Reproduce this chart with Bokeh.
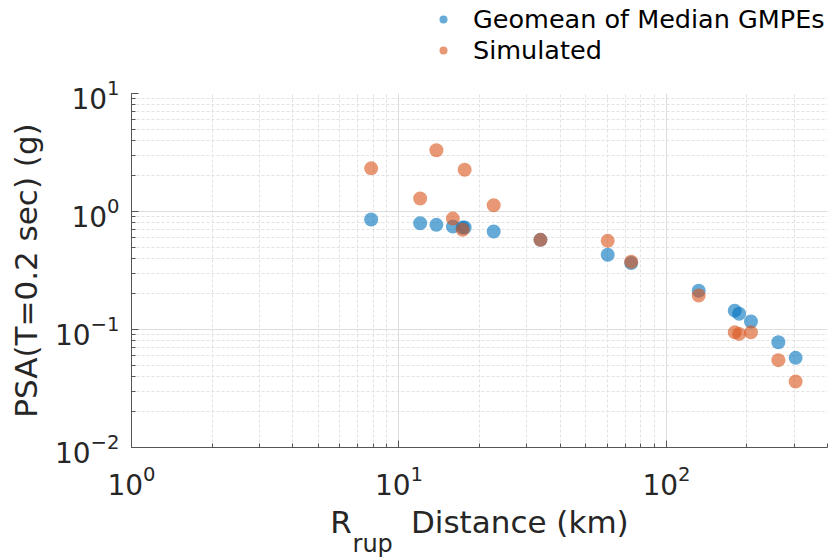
from bokeh.plotting import figure
from bokeh.models import Legend, LegendItem, LogAxis, FixedTicker
from bokeh.layouts import column
from bokeh.embed import file_html
from bokeh.resources import INLINE

# Data (Rrup distance km, PSA g)
gmpe_dist = [7.87, 12.0, 13.8, 15.9, 17.3, 17.6, 22.6, 33.8, 60.3, 73.8, 132, 180, 187, 207, 262, 304]
gmpe_psa = [0.855, 0.796, 0.771, 0.745, 0.731, 0.731, 0.676, 0.575, 0.430, 0.366, 0.213, 0.1445, 0.136, 0.117, 0.078, 0.0575]

sim_dist = [7.87, 12.0, 13.8, 15.9, 17.6, 17.3, 22.6, 33.8, 60.3, 73.8, 132, 180, 187, 207, 262, 304]
sim_psa = [2.32, 1.29, 3.30, 0.871, 2.26, 0.699, 1.13, 0.575, 0.564, 0.375, 0.194, 0.0946, 0.0918, 0.0946, 0.055, 0.0363]

legend_labels = ["Geomean of Median GMPEs", "Simulated"]
NB = "\u00a0"
x_label_main = "R" + NB * 6 + "Distance (km)"
x_label_sub = "rup" + NB * 28
y_label = "PSA(T=0.2 sec) (g)"

FONT = "DejaVu Sans"
BLUE = "#0072BD"
ORANGE = "#D95319"
ALPHA = 0.6

# ---- main plot ----
p = figure(width=839, height=487, x_axis_type="log", y_axis_type="log",
           x_range=(1, 400), y_range=(0.01, 10),
           output_backend="svg", toolbar_location=None,
           min_border_left=131, min_border_right=12,
           min_border_top=20, min_border_bottom=112)
p.outline_line_color = None
p.background_fill_color = "white"
p.border_fill_color = "white"

for ax in (p.xaxis, p.yaxis):
    ax.axis_line_color = "#555555"
    ax.major_tick_line_color = "#555555"
    ax.minor_tick_line_color = "#555555"
    ax.major_tick_in = 7
    ax.major_tick_out = 0
    ax.minor_tick_in = 4
    ax.minor_tick_out = 0
    ax.major_label_text_font = FONT
    ax.major_label_text_font_size = "28px"
    ax.major_label_text_color = "#262626"
    ax.axis_label_text_font = FONT
    ax.axis_label_text_font_style = "normal"
    ax.axis_label_text_color = "#262626"
    ax.axis_label_text_font_size = "31px"

p.xaxis.major_label_standoff = 17
p.xaxis.axis_label = x_label_main
p.xaxis.axis_label_standoff = 6
p.yaxis.major_label_standoff = 12
p.yaxis.axis_label = y_label
p.yaxis.axis_label_standoff = 8

# subscript of the x-axis label, carried by a tick-less axis below the main one
sub_axis = LogAxis(ticker=FixedTicker(ticks=[]), axis_line_color=None,
                   major_tick_line_color=None, minor_tick_line_color=None,
                   major_label_text_font_size="0px",
                   axis_label=x_label_sub, axis_label_standoff=-13,
                   axis_label_text_font=FONT, axis_label_text_font_size="24px",
                   axis_label_text_font_style="normal", axis_label_text_color="#262626")
p.add_layout(sub_axis, "below")

for g in (p.xgrid, p.ygrid):
    g.grid_line_color = "#dddddd"
    g.grid_line_alpha = 1.0
    g.minor_grid_line_color = "#e2e2e2"
    g.minor_grid_line_dash = "3 2"

p.scatter(gmpe_dist, gmpe_psa, size=14, fill_color=BLUE, fill_alpha=ALPHA, line_color=None)
p.scatter(sim_dist, sim_psa, size=14, fill_color=ORANGE, fill_alpha=ALPHA, line_color=None)

# ---- legend strip above the plot (its swatch renderers sit outside its own range) ----
lg = figure(width=839, height=73, x_range=(0, 1), y_range=(0, 1),
            output_backend="svg", toolbar_location=None,
            x_axis_location=None, y_axis_location=None,
            min_border=0)
lg.outline_line_color = None
lg.grid.visible = False
lb = lg.scatter([gmpe_dist[0]], [gmpe_psa[0] + 5], size=14, fill_color=BLUE, fill_alpha=ALPHA, line_color=None)
lo = lg.scatter([sim_dist[0]], [sim_psa[0] + 5], size=14, fill_color=ORANGE, fill_alpha=ALPHA, line_color=None)
legend = Legend(items=[LegendItem(label=legend_labels[0], renderers=[lb]),
                       LegendItem(label=legend_labels[1], renderers=[lo])],
                location=(302, 8), orientation="vertical",
                border_line_color=None, background_fill_alpha=0,
                padding=0, margin=0, spacing=1,
                glyph_width=20, glyph_height=26, label_height=26,
                label_standoff=20,
                label_text_font=FONT, label_text_font_size="25.5px",
                label_text_color="#000000")
lg.add_layout(legend, "center")

layout = column(lg, p, spacing=0)
open("out.html", "w").write(file_html(layout, INLINE))
